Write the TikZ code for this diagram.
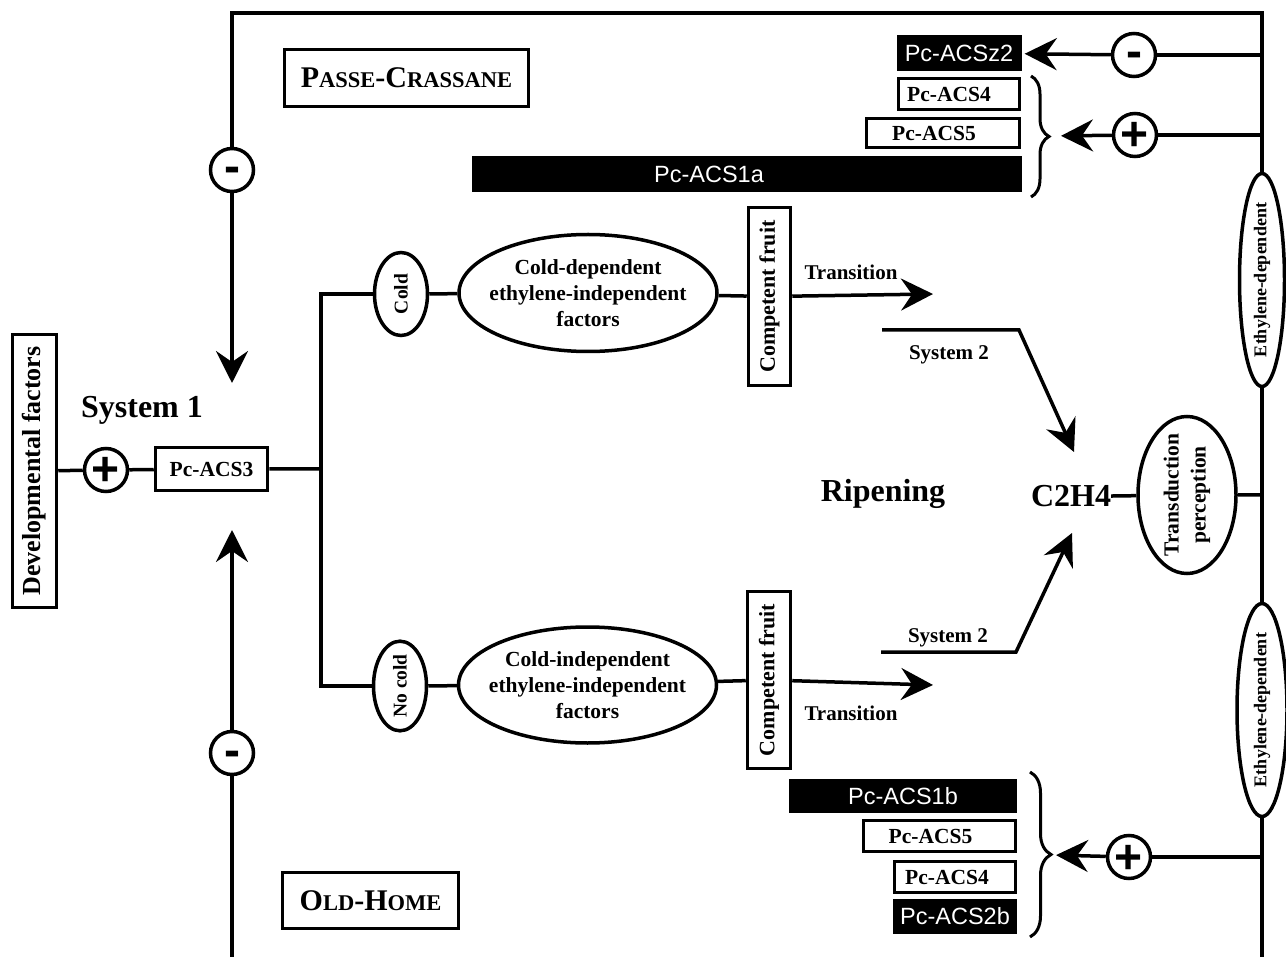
\documentclass[tikz,border=0pt]{standalone}
\usepackage{fontspec}
\setmainfont{Liberation Serif}
\newfontfamily\arialf{Liberation Sans}
\usetikzlibrary{arrows.meta,shapes.geometric,decorations.pathreplacing}
\newcommand{\fsz}[2]{\fontsize{#1}{#2}\selectfont}
\newcommand{\smc}[1]{{\fontsize{22.5}{27}\selectfont #1}}
\begin{document}
\begin{tikzpicture}[x=1pt,y=-1pt,
  wire/.style={line width=3.5pt},
  arr/.style={line width=3.5pt,-{Stealth[length=32pt,width=32pt,inset=11pt]}},
  gbox/.style={draw,line width=3.5pt,inner sep=0pt,font=\bfseries\fsz{21.5}{26}},
  dark/.style={fill=black,text=white,inner sep=0pt,font=\arialf\fsz{23.5}{28}},
  oval/.style={ellipse,draw,line width=3.5pt,inner sep=0pt,align=center},
  sign/.style={circle,draw,line width=3.5pt,minimum size=43pt,inner sep=-6pt,font=\arialf\bfseries\fsz{48}{48},text depth=0pt},
  lbl/.style={font=\bfseries\fsz{21}{25}},
  big/.style={font=\bfseries\fsz{32}{38}},
  title/.style={draw,line width=3.5pt,inner sep=0pt,font=\bfseries\fsz{30}{36}}]
  \useasboundingbox (0,0) rectangle (1286,957);
  % cultivar names
  \node[title,minimum width=244pt,minimum height=57pt] (pc) at (406.5,78) {P\smc{ASSE}-C\smc{RASSANE}};
  \node[title,minimum width=176pt,minimum height=56pt] (oh) at (370.5,900.5) {O\smc{LD}-H\smc{OME}};
  % system 1
  \node[gbox,rotate=90,minimum width=273pt,minimum height=44pt,font=\bfseries\fsz{26}{30}] (dev) at (34.5,471) {Developmental factors};
  \node[sign,text height=32pt] (pls) at (106,470) {+};
  \node[gbox,minimum width=112pt,minimum height=43pt] (acs3) at (211.5,469) {Pc-ACS3};
  \node[big,anchor=base] (sys1) at (142,418) {System 1};
  \coordinate (jn) at (321,469);
  \node[sign,text height=26pt] (mTL) at (232,170) {-};
  \node[sign,text height=26pt] (mBL) at (232,753) {-};
  \coordinate (tipA) at (232,383);
  \coordinate (tipB) at (232,530);
  % cold branch
  \node[oval,rotate=90,minimum width=83pt,minimum height=53pt,font=\bfseries\fsz{19.5}{23}] (cold) at (401,294) {Cold};
  \node[oval,minimum width=258pt,minimum height=117pt,inner xsep=-10pt,font=\bfseries\fsz{21.5}{26}] (cdep) at (588,293) {Cold-dependent\\ethylene-independent\\factors};
  \node[gbox,rotate=90,minimum width=178pt,minimum height=42pt,font=\bfseries\fsz{22}{26}] (comp1) at (769.5,296.5) {Competent fruit};
  % no cold branch
  \node[oval,rotate=90,minimum width=85pt,minimum height=53pt,font=\bfseries\fsz{19.5}{23}] (nocold) at (400,686) {No cold};
  \node[oval,minimum width=258pt,minimum height=116pt,inner xsep=-10pt,font=\bfseries\fsz{21.5}{26}] (cind) at (587.5,685) {Cold-independent\\ethylene-independent\\factors};
  \node[gbox,rotate=90,minimum width=177pt,minimum height=43pt,font=\bfseries\fsz{22}{26}] (comp2) at (769,680) {Competent fruit};
  \coordinate (tr1) at (933,294);
  \coordinate (tr2) at (933,685);
  \node[lbl,anchor=base] (trlab1) at (851,280) {Transition};
  \node[lbl,anchor=base] (trlab2) at (851,720) {Transition};
  % system 2
  \coordinate (s2a0) at (882,330); \coordinate (s2a1) at (1019,330); \coordinate (s2a2) at (1074,452);
  \coordinate (s2b0) at (881,652); \coordinate (s2b1) at (1016,652); \coordinate (s2b2) at (1072,533);
  \node[lbl,anchor=base] (s2lab1) at (949,360) {System 2};
  \node[lbl,anchor=base] (s2lab2) at (948,642) {System 2};
  \node[big,anchor=base] (ripe) at (883,502) {Ripening};
  \node[big,anchor=base,inner sep=0pt] (c2h4) at (1071,507) {C2H4};
  \node[oval,rotate=90,minimum width=157pt,minimum height=98pt,inner xsep=-8pt,font=\bfseries\fsz{21.5}{27}] (trans) at (1187,495) {Transduction\\perception};
  % ethylene spine
  \node[oval,rotate=90,minimum width=213pt,minimum height=45pt,inner xsep=-3pt,font=\bfseries\fsz{18}{22}] (ethA) at (1262,280) {Ethylene-dependent};
  \node[oval,rotate=90,minimum width=213pt,minimum height=50pt,inner xsep=-3pt,font=\bfseries\fsz{18}{22}] (ethB) at (1262,710) {Ethylene-dependent};
  \coordinate (ctr) at (1262,13);
  \coordinate (cbl) at (232,957);
  \coordinate (cbr) at (1262,957);
  \coordinate (r1) at (1262,55);
  \coordinate (r2) at (1262,135);
  \coordinate (r3) at (1262,495);
  \coordinate (r4) at (1262,857);
  \node[sign,text height=26pt] (mR) at (1134,55) {-};
  \node[sign,text height=32pt] (pR) at (1135,135) {+};
  \node[sign,text height=32pt] (pRB) at (1129,857) {+};
  % ACS genes
  \node[dark,minimum width=125pt,minimum height=36pt] (z2) at (959,53) {Pc-ACSz2};
  \node[gbox,minimum width=121pt,minimum height=31pt] (a4) at (959,94) {\hspace*{-20pt}Pc-ACS4};
  \node[gbox,minimum width=153pt,minimum height=29pt] (a5) at (943,133) {\hspace*{-18pt}Pc-ACS5};
  \node[dark,minimum width=550pt,minimum height=36pt] (a1a) at (747,174) {\hspace*{-76pt}Pc-ACS1a};
  \node[dark,minimum width=228pt,minimum height=34pt] (b1b) at (903,796) {Pc-ACS1b};
  \node[gbox,minimum width=152pt,minimum height=31pt] (b5) at (939.5,836) {\hspace*{-18pt}Pc-ACS5};
  \node[gbox,minimum width=121pt,minimum height=31pt] (b4) at (955,877) {\hspace*{-16pt}Pc-ACS4};
  \node[dark,minimum width=124pt,minimum height=35pt] (b2b) at (955,916.5) {Pc-ACS2b};
  \draw[line width=3pt,decorate,decoration={brace,amplitude=18pt}] (1031,76) -- (1031,197);
  \draw[line width=3pt,decorate,decoration={brace,amplitude=21pt}] (1030,772) -- (1030,937);
  \coordinate (brA) at (1050,136);
  \coordinate (brB) at (1052,855);
  % connectors
  \draw[wire] (dev) -- (pls) -- (acs3) -- (jn);
  \draw[wire] (cold) -| (jn) |- (nocold);
  \draw[wire] (cold) -- (cdep) -- (comp1);
  \draw[wire] (nocold) -- (cind) -- (comp2);
  \draw[arr] (comp1) -- (tr1);
  \draw[arr] (comp2) -- (tr2);
  \draw[arr] (s2a0) -- (s2a1) -- (s2a2);
  \draw[arr] (s2b0) -- (s2b1) -- (s2b2);
  \draw[wire] (c2h4) -- (trans) -- (r3);
  \draw[wire] (mTL) |- (ctr) -- (ethA) -- (ethB) -- (cbr);
  \draw[arr] (mTL) -- (tipA);
  \draw[wire] (cbl) -- (mBL);
  \draw[arr] (mBL) -- (tipB);
  \draw[wire] (r1) -- (mR);
  \draw[arr,shorten >=3pt] (mR) -- (z2);
  \draw[wire] (r2) -- (pR);
  \draw[arr,shorten >=11pt] (pR) -- (brA);
  \draw[wire] (r4) -- (pRB);
  \draw[arr,shorten >=4pt] (pRB) -- (brB);
\end{tikzpicture}
\end{document}
